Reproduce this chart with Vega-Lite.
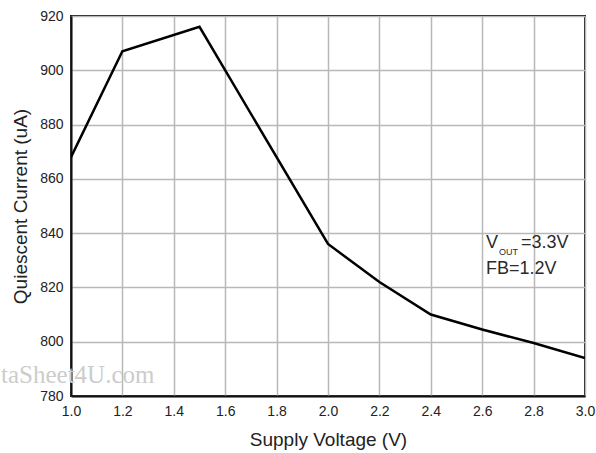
{
  "$schema": "https://vega.github.io/schema/vega-lite/v6.json",
  "width": 514,
  "height": 380,
  "autosize": {"type": "none"},
  "padding": {"left": 71, "top": 16, "right": 11, "bottom": 57},
  "background": "white",
  "config": {
    "font": "Liberation Sans",
    "view": {"stroke": "#111111", "strokeWidth": 2},
    "axis": {
      "labelFont": "Liberation Sans",
      "titleFont": "Liberation Sans",
      "labelColor": "#222222",
      "titleColor": "#222222",
      "labelFontSize": 14,
      "titleFontSize": 19,
      "titleFontWeight": "normal",
      "labelFlush": false,
      "labelOverlap": false,
      "ticks": false,
      "domainColor": "#111111",
      "domainWidth": 2,
      "gridColor": "#b8b8b8",
      "gridWidth": 1.5,
      "gridOpacity": 1
    }
  },
  "datasets": {
    "curve": [
      {"voltage": 1.0, "current": 868},
      {"voltage": 1.2, "current": 907},
      {"voltage": 1.5, "current": 916},
      {"voltage": 2.0, "current": 836},
      {"voltage": 2.2, "current": 822},
      {"voltage": 2.4, "current": 810},
      {"voltage": 2.6, "current": 804.5},
      {"voltage": 2.8, "current": 799.5},
      {"voltage": 3.0, "current": 794}
    ]
  },
  "layer": [
    {
      "data": {"name": "curve"},
      "mark": {"type": "line", "color": "#000000", "strokeWidth": 2.5, "clip": true},
      "encoding": {
        "x": {
          "field": "voltage",
          "type": "quantitative",
          "title": "Supply Voltage (V)",
          "scale": {"domain": [1.0, 3.0], "nice": false},
          "axis": {"values": [1.0, 1.2, 1.4, 1.6, 1.8, 2.0, 2.2, 2.4, 2.6, 2.8, 3.0], "format": ".1f", "labelPadding": 8, "titlePadding": 12}
        },
        "y": {
          "field": "current",
          "type": "quantitative",
          "title": "Quiescent Current (uA)",
          "scale": {"domain": [780, 920], "nice": false, "zero": false},
          "axis": {"values": [780, 800, 820, 840, 860, 880, 900, 920], "labelPadding": 8, "titlePadding": 9}
        }
      }
    },
    {
      "data": {"values": [{"voltage": 2.615, "current": 836.4, "label": "V"}]},
      "mark": {"type": "text", "align": "left", "baseline": "middle", "fontSize": 18, "color": "#2a2a2a"},
      "encoding": {
        "x": {"field": "voltage", "type": "quantitative"},
        "y": {"field": "current", "type": "quantitative"},
        "text": {"field": "label"}
      }
    },
    {
      "data": {"values": [{"voltage": 2.615, "current": 836.4, "label": "OUT"}]},
      "mark": {"type": "text", "align": "left", "baseline": "middle", "fontSize": 9, "dx": 13, "dy": 9, "color": "#2a2a2a"},
      "encoding": {
        "x": {"field": "voltage", "type": "quantitative"},
        "y": {"field": "current", "type": "quantitative"},
        "text": {"field": "label"}
      }
    },
    {
      "data": {"values": [{"voltage": 2.615, "current": 836.4, "label": "=3.3V"}]},
      "mark": {"type": "text", "align": "left", "baseline": "middle", "fontSize": 18, "dx": 35, "color": "#2a2a2a"},
      "encoding": {
        "x": {"field": "voltage", "type": "quantitative"},
        "y": {"field": "current", "type": "quantitative"},
        "text": {"field": "label"}
      }
    },
    {
      "data": {"values": [{"voltage": 2.615, "current": 826.8, "label": "FB=1.2V"}]},
      "mark": {"type": "text", "align": "left", "baseline": "middle", "fontSize": 18, "color": "#2a2a2a"},
      "encoding": {
        "x": {"field": "voltage", "type": "quantitative"},
        "y": {"field": "current", "type": "quantitative"},
        "text": {"field": "label"}
      }
    },
    {
      "data": {"values": [{"voltage": 1.0, "current": 787.7, "label": "taSheet4U.com"}]},
      "mark": {"type": "text", "align": "left", "baseline": "middle", "fontSize": 25, "font": "Liberation Serif", "dx": -70, "color": "#cccccc"},
      "encoding": {
        "x": {"field": "voltage", "type": "quantitative"},
        "y": {"field": "current", "type": "quantitative"},
        "text": {"field": "label"}
      }
    }
  ]
}
